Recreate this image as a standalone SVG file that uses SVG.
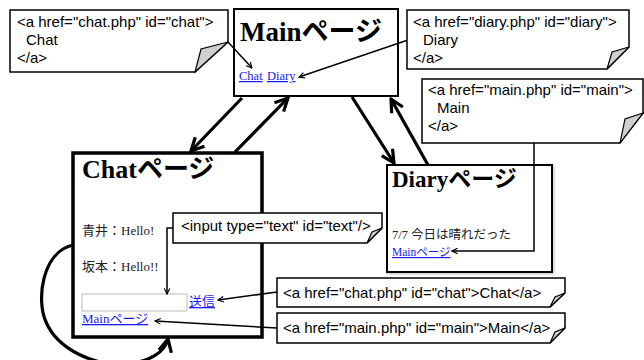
<svg xmlns="http://www.w3.org/2000/svg" width="644" height="360" viewBox="0 0 644 360">
<style>
.page{fill:#fff;stroke:#000}
.title{font-family:"Liberation Serif","Noto Sans CJK JP",serif;font-weight:bold;fill:#000}
.body{font-family:"Liberation Serif","Noto Sans CJK JP",serif;fill:#222}
.link{font-family:"Liberation Serif","Noto Sans CJK JP",serif;fill:#1a1aee;text-decoration:underline}
.note{fill:#fff;stroke:#000;stroke-width:1.5}
.fold{fill:#cfcfcf;stroke:#000;stroke-width:1.2}
.ntext{font-family:"Liberation Sans",Arial,sans-serif;font-size:15px;fill:#000}
.thin{fill:none;stroke:#000;stroke-width:1.5}
.thick{fill:none;stroke:#000;stroke-width:3.2}
</style>
<defs>
<marker id="ah" viewBox="0 0 10 10" refX="9" refY="5" markerWidth="7" markerHeight="7" orient="auto" markerUnits="userSpaceOnUse">
<path d="M1,1 L9,5 L1,9" fill="none" stroke="#000" stroke-width="1.6"/>
</marker>
<marker id="ahb" viewBox="0 0 10 10" refX="9" refY="5" markerWidth="16" markerHeight="16" orient="auto" markerUnits="userSpaceOnUse">
<path d="M1,1 L9,5 L1,9" fill="none" stroke="#000" stroke-width="2"/>
</marker>
<filter id="sh" x="-10%" y="-10%" width="130%" height="130%">
<feDropShadow dx="1.5" dy="1.5" stdDeviation="1" flood-color="#000" flood-opacity="0.2"/>
</filter>
</defs>

<g id="main-page">
<rect class="page" x="234" y="9" width="164" height="87" stroke-width="2"/>
<text class="title" x="240" y="41" font-size="27">Mainページ</text>
<text class="link" x="239" y="80" font-size="12.5">Chat</text>
<text class="link" x="267" y="80" font-size="12.5">Diary</text>
</g>

<g id="diary-page">
<rect class="page" x="387" y="165" width="165" height="107" stroke-width="2" filter="url(#sh)"/>
<text class="title" x="392" y="187" font-size="23">Diaryページ</text>
<text class="body" x="392" y="239" font-size="12.5">7/7 今日は晴れだった</text>
<text class="link" x="392" y="256" font-size="11.5">Mainページ</text>
</g>

<g id="chat-page">
<rect class="page" x="73" y="153" width="189" height="184" stroke-width="3.5"/>
<text class="title" x="82" y="178" font-size="26">Chatページ</text>
<text class="body" x="82" y="235" font-size="13">青井：Hello!</text>
<text class="body" x="82" y="271" font-size="13">坂本：Hello!!</text>
<rect x="82" y="294" width="105" height="17" fill="#fff" stroke="#bbb" stroke-width="1"/>
<text class="link" x="189" y="306" font-size="13">送信</text>
<text class="link" x="82" y="323" font-size="13">Mainページ</text>
</g>

<g id="connectors">
<line class="thick" x1="242" y1="98" x2="191" y2="151" marker-end="url(#ahb)"/>
<line class="thick" x1="235" y1="152" x2="288" y2="98" marker-end="url(#ahb)"/>
<line class="thick" x1="352" y1="97" x2="394" y2="163" marker-end="url(#ahb)"/>
<line class="thick" x1="428" y1="165" x2="391" y2="99" marker-end="url(#ahb)"/>
<path class="thick" d="M73,245 C42,252 36,300 46,322 C58,350 95,366 125,364 C150,362 165,352 168,339" marker-end="url(#ahb)"/>
<line class="thin" x1="228" y1="42" x2="252" y2="68" marker-end="url(#ah)"/>
<line class="thin" x1="408" y1="40" x2="299" y2="77" marker-end="url(#ah)"/>
<polyline class="thin" points="534,143 534,251 452,251" marker-end="url(#ah)"/>
<polyline class="thin" points="173,228 167,228 167,294" marker-end="url(#ah)"/>
<line class="thin" x1="277" y1="292" x2="218" y2="300" marker-end="url(#ah)"/>
<line class="thin" x1="277" y1="328" x2="155" y2="321" marker-end="url(#ah)"/>
</g>

<g id="note-chat">
<path class="note" d="M10,10 H228 V42 L195,72 H10 Z"/>
<path class="fold" d="M228,42 L201,49 L195,72 Z"/>
<text class="ntext" x="17" y="27">&lt;a href="chat.php" id="chat"&gt;</text>
<text class="ntext" x="26" y="45">Chat</text>
<text class="ntext" x="17" y="63">&lt;/a&gt;</text>
</g>

<g id="note-diary">
<path class="note" d="M407,10 H629 V47 L607,69 H407 Z"/>
<path class="fold" d="M629,47 L612,52 L607,69 Z"/>
<text class="ntext" x="413" y="27">&lt;a href="diary.php" id="diary"&gt;</text>
<text class="ntext" x="423" y="45">Diary</text>
<text class="ntext" x="413" y="63">&lt;/a&gt;</text>
</g>

<g id="note-main">
<path class="note" d="M422,79 H643 V113 L620,143 H422 Z"/>
<path class="fold" d="M643,113 L625,119 L620,143 Z"/>
<text class="ntext" x="428" y="95">&lt;a href="main.php" id="main"&gt;</text>
<text class="ntext" x="437" y="113">Main</text>
<text class="ntext" x="428" y="131">&lt;/a&gt;</text>
</g>

<g id="note-input">
<path class="note" d="M173,213 H382 V228 L367,243 H173 Z"/>
<path class="fold" d="M382,228 L372,232 L367,243 Z"/>
<text class="ntext" x="181" y="231">&lt;input type="text" id="text"/&gt;</text>
</g>

<g id="note-chat-link">
<path class="note" d="M277,278 H565 V293 L550,307 H277 Z"/>
<path class="fold" d="M565,293 L555,297 L550,307 Z"/>
<text class="ntext" x="283" y="298">&lt;a href="chat.php" id="chat"&gt;Chat&lt;/a&gt;</text>
</g>

<g id="note-main-link">
<path class="note" d="M277,313 H565 V328 L550,343 H277 Z"/>
<path class="fold" d="M565,328 L555,332 L550,343 Z"/>
<text class="ntext" x="283" y="333">&lt;a href="main.php" id="main"&gt;Main&lt;/a&gt;</text>
</g>
</svg>
